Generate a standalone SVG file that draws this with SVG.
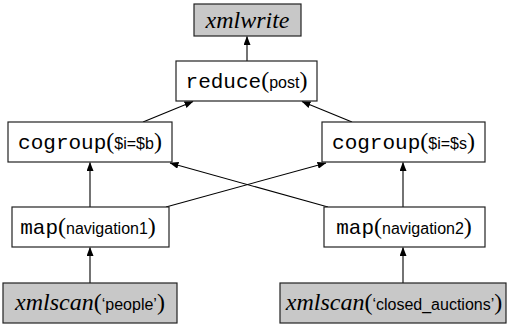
<svg xmlns="http://www.w3.org/2000/svg" width="522" height="327" viewBox="0 0 522 327">
<style>
.box{fill:#fff;stroke:#222;stroke-width:1.2}
.gray{fill:#c8c8c8}
.lbl{text-anchor:middle;fill:#000}
.mono{font-family:"Liberation Mono","DejaVu Sans Mono",monospace;font-size:21px}
.sans{font-family:"Liberation Sans",Arial,sans-serif;font-size:16px}
.par{font-family:"Liberation Serif","Times New Roman",serif;font-size:24px}
.it{font-family:"Liberation Serif","Times New Roman",serif;font-style:italic;font-size:24px}
.edge{stroke:#000;stroke-width:1.1;fill:none;marker-end:url(#ah)}
</style>
<defs>
<marker id="ah" markerUnits="userSpaceOnUse" markerWidth="9" markerHeight="7" refX="8.5" refY="3.5" orient="auto">
<path d="M0,0 L9,3.5 L0,7 z" fill="#000"/>
</marker>
</defs>
<g id="connectors">
<line class="edge" x1="247" y1="61" x2="247" y2="36.5"/>
<line class="edge" x1="143" y1="122" x2="193" y2="101.5"/>
<line class="edge" x1="352" y1="122" x2="302" y2="101.5"/>
<line class="edge" x1="90" y1="207" x2="90" y2="162.5"/>
<line class="edge" x1="403" y1="207" x2="403" y2="162.5"/>
<line class="edge" x1="166" y1="207" x2="326" y2="163"/>
<line class="edge" x1="328" y1="207" x2="170" y2="163"/>
<line class="edge" x1="90" y1="283" x2="90" y2="247.5"/>
<line class="edge" x1="403" y1="283" x2="403" y2="247.5"/>
</g>
<g id="xmlwrite">
<rect class="box gray" x="194" y="4" width="107" height="32"/>
<text class="lbl it" x="247.5" y="28">xmlwrite</text>
</g>
<g id="reduce">
<rect class="box" x="176" y="61" width="141" height="40"/>
<text class="lbl" x="246.5" y="88"><tspan class="mono">reduce</tspan><tspan class="par">(</tspan><tspan class="sans">post</tspan><tspan class="par">)</tspan></text>
</g>
<g id="cogroup-left">
<rect class="box" x="8" y="122" width="164" height="40"/>
<text class="lbl" x="90" y="149"><tspan class="mono">cogroup</tspan><tspan class="par">(</tspan><tspan class="sans">$i=$b</tspan><tspan class="par">)</tspan></text>
</g>
<g id="cogroup-right">
<rect class="box" x="322" y="122" width="163" height="40"/>
<text class="lbl" x="403.5" y="149"><tspan class="mono">cogroup</tspan><tspan class="par">(</tspan><tspan class="sans">$i=$s</tspan><tspan class="par">)</tspan></text>
</g>
<g id="map-left">
<rect class="box" x="12" y="207" width="157" height="40"/>
<text class="lbl" x="88" y="234"><tspan class="mono">map</tspan><tspan class="par">(</tspan><tspan class="sans">navigation1</tspan><tspan class="par">)</tspan></text>
</g>
<g id="map-right">
<rect class="box" x="324" y="207" width="161" height="40"/>
<text class="lbl" x="404" y="234"><tspan class="mono">map</tspan><tspan class="par">(</tspan><tspan class="sans">navigation2</tspan><tspan class="par">)</tspan></text>
</g>
<g id="xmlscan-left">
<rect class="box gray" x="3" y="283" width="174" height="40"/>
<text class="lbl" x="90" y="310"><tspan class="it">xmlscan</tspan><tspan class="par">(</tspan><tspan class="sans">‘people’</tspan><tspan class="par">)</tspan></text>
</g>
<g id="xmlscan-right">
<rect class="box gray" x="280" y="283" width="226" height="40"/>
<text class="lbl" x="394" y="310"><tspan class="it">xmlscan</tspan><tspan class="par">(</tspan><tspan class="sans">‘closed_auctions’</tspan><tspan class="par">)</tspan></text>
</g>
</svg>
